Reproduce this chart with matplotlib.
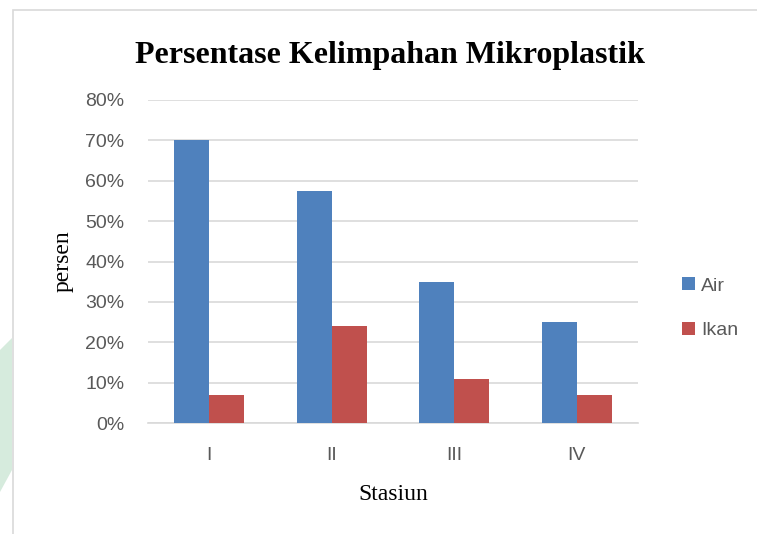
import matplotlib.pyplot as plt
import numpy as np
from matplotlib.patches import Rectangle, Polygon

stasiun = ["I", "II", "III", "IV"]
air = [70, 57.5, 35, 25]
ikan = [7, 24, 11, 7]
yticks = [0, 10, 20, 30, 40, 50, 60, 70, 80]

blue = "#4f81bd"
red = "#c0504d"
grey = "#595959"

fig = plt.figure(figsize=(7.57, 5.34), dpi=100)
ax = fig.add_axes([148 / 757, 1 - 423 / 534, 490 / 757, 323 / 534])

x = np.arange(len(stasiun))
w = 0.285
ax.bar(x - w / 2, air, w, color=blue, label="Air", zorder=3)
ax.bar(x + w / 2, ikan, w, color=red, label="Ikan", zorder=3)

ax.set_xlim(-0.5, len(stasiun) - 0.5)
ax.set_ylim(0, 80)
ax.set_yticks(yticks)
ax.set_yticklabels([f"{v}%" for v in yticks])
ax.set_xticks(x)
ax.set_xticklabels(stasiun)
ax.yaxis.grid(True, color="#d9d9d9", linewidth=1.2, zorder=0)
for s in ["top", "right", "left"]:
    ax.spines[s].set_visible(False)
ax.spines["bottom"].set_color("#d9d9d9")
ax.spines["bottom"].set_linewidth(1.2)
ax.tick_params(axis="both", length=0, labelsize=14, labelcolor=grey,
               labelfontfamily="Liberation Sans")
ax.tick_params(axis="y", pad=17)
ax.tick_params(axis="x", pad=17)

ax.set_ylabel("persen", fontfamily="Liberation Serif", fontsize=17, labelpad=8)
ax.set_xlabel("Stasiun", fontfamily="Liberation Serif", fontsize=17, labelpad=15)

fig.text(390 / 757, 1 - 55 / 534, "Persentase Kelimpahan Mikroplastik",
         fontfamily="Liberation Serif", fontweight="bold", fontsize=23,
         ha="center", va="center")

leg = ax.legend(loc="center left", bbox_to_anchor=(1.055, 0.355), frameon=False,
                prop={"family": "Liberation Sans", "size": 14},
                handlelength=0.65, handleheight=0.65, handletextpad=0.3,
                labelspacing=1.4)
for t in leg.get_texts():
    t.set_color(grey)

# faint watermark on the left edge
fig.patches.append(Polygon([(0, 1 - 350 / 534), (12 / 757, 1 - 338 / 534),
                            (12 / 757, 1 - 470 / 534), (0, 1 - 492 / 534)],
                           closed=True, transform=fig.transFigure,
                           facecolor="#d6ebdd", edgecolor="none", zorder=0))
# chart frame
fig.patches.append(Rectangle((13 / 757, -0.1), 1.2, 1.1 - 10 / 534,
                             transform=fig.transFigure, fill=False,
                             edgecolor="#d9d9d9", linewidth=1.2))

fig.savefig("out.png", dpi=100)
